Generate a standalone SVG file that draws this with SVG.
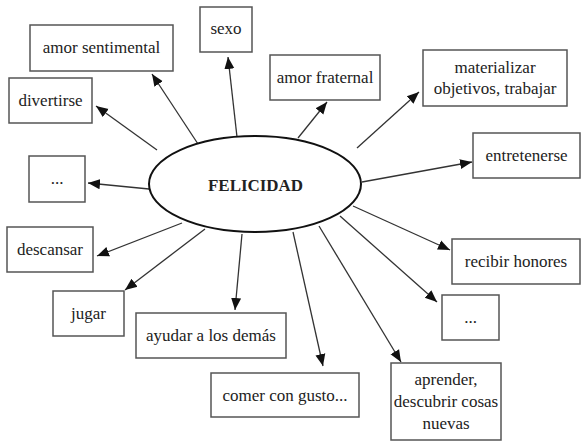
<svg xmlns="http://www.w3.org/2000/svg" width="582" height="441" viewBox="0 0 582 441">
<style>
.box{fill:#fff;stroke:#555;stroke-width:1.5}
.edge{stroke:#333;stroke-width:1.3;fill:none;marker-end:url(#ah)}
text{font-family:"Liberation Serif","Times New Roman","DejaVu Serif",serif}
</style>
<defs>
<marker id="ah" markerUnits="userSpaceOnUse" markerWidth="14" markerHeight="12" refX="12" refY="5" orient="auto" viewBox="0 0 14 10">
<path d="M0,0 L12,5 L0,10 Z" fill="#111"/>
</marker>
</defs>
<rect width="582" height="441" fill="#fff"/>
<g id="connectors">
<line class="edge" x1="157" y1="150" x2="96" y2="106"/>
<line class="edge" x1="198" y1="144" x2="152" y2="74"/>
<line class="edge" x1="237" y1="137" x2="228" y2="57"/>
<line class="edge" x1="298" y1="138" x2="327" y2="102"/>
<line class="edge" x1="357" y1="148" x2="419" y2="92"/>
<line class="edge" x1="362" y1="182" x2="472" y2="162"/>
<line class="edge" x1="353" y1="206" x2="450" y2="250"/>
<line class="edge" x1="340" y1="216" x2="437" y2="302"/>
<line class="edge" x1="319" y1="226" x2="401" y2="362"/>
<line class="edge" x1="293" y1="232" x2="323" y2="366"/>
<line class="edge" x1="242" y1="234" x2="235" y2="310"/>
<line class="edge" x1="205" y1="229" x2="125" y2="290"/>
<line class="edge" x1="182" y1="223" x2="97" y2="256"/>
<line class="edge" x1="149" y1="189" x2="88" y2="183"/>
</g>
<g font-size="17" fill="#222" text-anchor="middle">
<g id="felicidad">
<ellipse cx="255" cy="184" rx="106" ry="48" fill="#fff" stroke="#111" stroke-width="2"/>
<text x="255.5" y="191" font-weight="bold" font-size="16" textLength="95" lengthAdjust="spacingAndGlyphs">FELICIDAD</text>
</g>
<g id="amor-sentimental"><rect class="box" x="30" y="25" width="143" height="46"/><text x="101.5" y="53">amor sentimental</text></g>
<g id="sexo"><rect class="box" x="200" y="7" width="52" height="45"/><text x="226" y="34">sexo</text></g>
<g id="divertirse"><rect class="box" x="9" y="78" width="83" height="45"/><text x="50.5" y="106">divertirse</text></g>
<g id="amor-fraternal"><rect class="box" x="270" y="55" width="110" height="45"/><text x="325" y="83">amor fraternal</text></g>
<g id="materializar"><rect class="box" x="423" y="50" width="144" height="56"/><text x="495" y="73">materializar</text><text x="495" y="94">objetivos, trabajar</text></g>
<g id="entretenerse"><rect class="box" x="473" y="133" width="107" height="45"/><text x="526.5" y="161">entretenerse</text></g>
<g id="recibir-honores"><rect class="box" x="452" y="239" width="128" height="45"/><text x="516" y="267">recibir honores</text></g>
<g id="etc-right"><rect class="box" x="442" y="295" width="57" height="45"/><text x="470.5" y="323">...</text></g>
<g id="aprender"><rect class="box" x="391" y="363" width="110" height="77"/><text x="446" y="385">aprender,</text><text x="446" y="407">descubrir cosas</text><text x="446" y="429">nuevas</text></g>
<g id="comer"><rect class="box" x="211" y="373" width="148" height="44"/><text x="285" y="401">comer con gusto...</text></g>
<g id="ayudar"><rect class="box" x="136" y="313" width="150" height="45"/><text x="211" y="341">ayudar a los demás</text></g>
<g id="jugar"><rect class="box" x="53" y="291" width="71" height="45"/><text x="88.5" y="319">jugar</text></g>
<g id="descansar"><rect class="box" x="7" y="227" width="86" height="45"/><text x="50" y="255">descansar</text></g>
<g id="etc-left"><rect class="box" x="29" y="156" width="56" height="46"/><text x="57" y="184">...</text></g>
</g>
</svg>
